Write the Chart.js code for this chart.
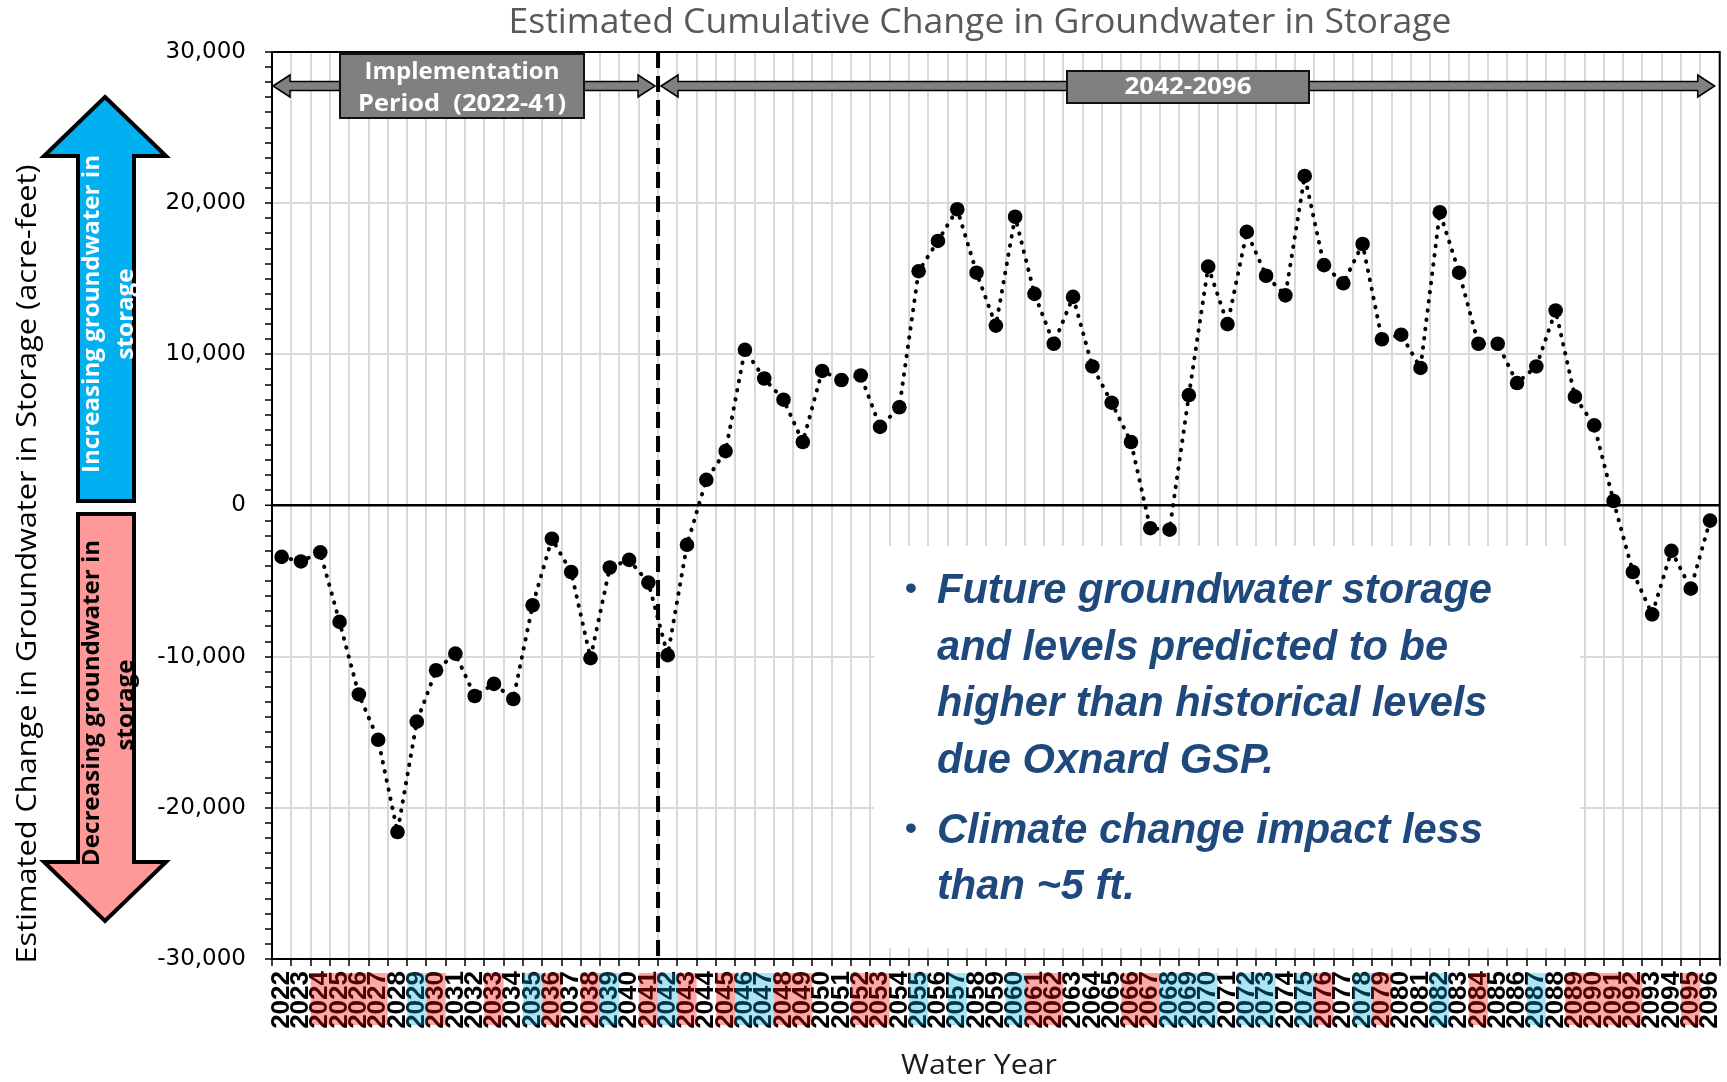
<!DOCTYPE html>
<html><head><meta charset="utf-8">
<script src="https://cdn.jsdelivr.net/npm/chart.js@4.4.1/dist/chart.umd.min.js"></script>
<style>html,body{margin:0;padding:0;background:#fff;}canvas{display:block;}</style>
</head><body>
<canvas id="c" width="1727" height="1082" style="width:1727px;height:1082px"></canvas>
<script>
const years = ['2022','2023','2024','2025','2026','2027','2028','2029','2030','2031',
  '2032','2033','2034','2035','2036','2037','2038','2039','2040','2041',
  '2042','2043','2044','2045','2046','2047','2048','2049','2050','2051',
  '2052','2053','2054','2055','2056','2057','2058','2059','2060','2061',
  '2062','2063','2064','2065','2066','2067','2068','2069','2070','2071',
  '2072','2073','2074','2075','2076','2077','2078','2079','2080','2081',
  '2082','2083','2084','2085','2086','2087','2088','2089','2090','2091',
  '2092','2093','2094','2095','2096'];
const storage = [-3400,-3700,-3100,-7700,-12500,-15500,-21600,-14300,-10900,-9800,
  -12600,-11800,-12800,-6600,-2200,-4400,-10100,-4100,-3600,-5100,
  -9900,-2600,1700,3600,10300,8400,7000,4200,8900,8300,
  8600,5200,6500,15500,17500,19600,15400,11900,19100,14000,
  10700,13800,9200,6800,4200,-1500,-1600,7300,15800,12000,
  18100,15200,13900,21800,15900,14700,17300,11000,11300,9100,
  19400,15400,10700,10700,8100,9200,12900,7200,5300,300,
  -4400,-7200,-3000,-5500,-1000];
const dryYears = ['2024','2025','2026','2027','2030','2033','2036','2038','2041','2043','2045',
  '2048','2049','2052','2053','2061','2062','2066','2067','2076','2079','2084',
  '2089','2090','2091','2092','2095'];
const wetYears = ['2029','2035','2039','2042','2046','2047','2055','2057','2060','2068','2069',
  '2070','2072','2073','2075','2078','2082','2087'];
const yMin = -30000, yMax = 30000, yMinorStep = 1000, yMajorStep = 10000;
const implementationEnd = '2041';

const titleText = 'Estimated Cumulative Change in Groundwater in Storage';
const yTitleText = 'Estimated Change in Groundwater in Storage (acre-feet)';
const xTitleText = 'Water Year';
const noteLines = [
  {bullet:true, text:'Future groundwater storage'},
  {bullet:false, text:'and levels predicted to be'},
  {bullet:false, text:'higher than historical levels'},
  {bullet:false, text:'due Oxnard GSP.'},
  {bullet:true, text:'Climate change impact less', gap:true},
  {bullet:false, text:'than ~5 ft.'}
];

function drawText(ctx, text, x, y, opts) {
  ctx.save();
  ctx.font = opts.font;
  const w = ctx.measureText(text).width;
  const sx = opts.width ? opts.width / w : (opts.sx || 1);
  ctx.translate(x, y);
  if (opts.rot) ctx.rotate(opts.rot);
  ctx.scale(sx, 1);
  ctx.fillStyle = opts.color;
  ctx.textAlign = opts.align || 'center';
  ctx.textBaseline = opts.baseline || 'middle';
  ctx.fillText(text, 0, 0);
  ctx.restore();
  return sx;
}
function scaleFor(ctx, text, font, width) {
  ctx.save(); ctx.font = font; const w = ctx.measureText(text).width; ctx.restore();
  return width / w;
}
function doubleArrow(ctx, x1, x2, y) {
  const sh = 4.5, hh = 11, hl = 17;
  ctx.save();
  ctx.beginPath();
  ctx.moveTo(x1, y);
  ctx.lineTo(x1 + hl, y - hh);
  ctx.lineTo(x1 + hl, y - sh);
  ctx.lineTo(x2 - hl, y - sh);
  ctx.lineTo(x2 - hl, y - hh);
  ctx.lineTo(x2, y);
  ctx.lineTo(x2 - hl, y + hh);
  ctx.lineTo(x2 - hl, y + sh);
  ctx.lineTo(x1 + hl, y + sh);
  ctx.lineTo(x1 + hl, y + hh);
  ctx.closePath();
  ctx.fillStyle = '#808080';
  ctx.fill();
  ctx.lineWidth = 1.5;
  ctx.strokeStyle = '#000';
  ctx.stroke();
  ctx.restore();
}
function greyBox(ctx, x, y, w, h) {
  ctx.save();
  ctx.fillStyle = '#808080';
  ctx.fillRect(x, y, w, h);
  ctx.lineWidth = 2;
  ctx.strokeStyle = '#111';
  ctx.strokeRect(x, y, w, h);
  ctx.restore();
}

const decor = {
  id: 'decor',
  beforeDatasetsDraw(chart) {
    const ctx = chart.ctx, a = chart.chartArea, xs = chart.scales.x;
    ctx.save();
    ctx.fillStyle = '#fff';
    ctx.fillRect(874, 546, 706, 402);
    ctx.restore();
    const i = years.indexOf(implementationEnd);
    const xd = (xs.getPixelForValue(i) + xs.getPixelForValue(i + 1)) / 2;
    ctx.save();
    ctx.strokeStyle = '#000';
    ctx.lineWidth = 4;
    ctx.setLineDash([16, 8]);
    ctx.beginPath();
    ctx.moveTo(xd, a.top);
    ctx.lineTo(xd, a.bottom);
    ctx.stroke();
    ctx.restore();
  },
  afterDatasetsDraw(chart) {
    const ctx = chart.ctx, a = chart.chartArea, xs = chart.scales.x;
    ctx.save();
    ctx.strokeStyle = '#000';
    ctx.lineWidth = 2;
    ctx.strokeRect(a.left, a.top, a.right - a.left, a.bottom - a.top);
    ctx.restore();
    const i = years.indexOf(implementationEnd);
    const xd = (xs.getPixelForValue(i) + xs.getPixelForValue(i + 1)) / 2;
    const ya = 86;
    doubleArrow(ctx, a.left + 1, xd - 3, ya);
    doubleArrow(ctx, xd + 3, a.right - 5, ya);
    greyBox(ctx, 340, 54, 244, 64);
    greyBox(ctx, 1067, 71, 242, 32);
    const bf = 'bold 23px "Open Sans"';
    const s1 = scaleFor(ctx, 'Implementation', bf, 195);
    drawText(ctx, 'Implementation', 462, 72, {font: bf, color: '#fff', sx: s1});
    drawText(ctx, 'Period  (2022-41)', 462, 104, {font: bf, color: '#fff', width: 208});
    drawText(ctx, '2042-2096', 1188, 87, {font: bf, color: '#fff', width: 127});
    const nf = 'italic bold 42px "Liberation Sans Narrow", "Liberation Sans", sans-serif';
    const ns = scaleFor(ctx, noteLines[0].text, nf, 555);
    let yb = 603;
    noteLines.forEach((ln, k) => {
      if (k > 0) yb += ln.gap ? 70 : 56.5;
      if (ln.bullet) drawText(ctx, '\u2022', 911, yb - 4, {font: 'bold 34px "Liberation Sans"', color: '#1F497D', baseline: 'alphabetic'});
      drawText(ctx, ln.text, 937, yb, {font: nf, color: '#1F497D', sx: ns, align: 'left', baseline: 'alphabetic'});
    });
  },
  afterDraw(chart) {
    const ctx = chart.ctx, xs = chart.scales.x;
    const hw = (xs.getPixelForValue(1) - xs.getPixelForValue(0)) / 2;
    const top = xs.top + 14, h = 52;
    ctx.save();
    dryYears.forEach(y => {
      const cx = xs.getPixelForValue(years.indexOf(y));
      ctx.fillStyle = 'rgba(240,0,0,0.34)';
      ctx.fillRect(cx - hw, top, hw * 2, h);
    });
    wetYears.forEach(y => {
      const cx = xs.getPixelForValue(years.indexOf(y));
      ctx.fillStyle = 'rgba(0,170,225,0.32)';
      ctx.fillRect(cx - hw, top, hw * 2, h);
    });
    ctx.restore();
    drawText(ctx, titleText, 980, 23, {font: '34px "Open Sans"', color: '#595959', width: 943});
    drawText(ctx, yTitleText, 28, 564, {font: '28px "Open Sans"', color: '#000', width: 799, rot: -Math.PI / 2});
    drawText(ctx, xTitleText, 979, 1066, {font: '28px "Open Sans"', color: '#1a1a1a', width: 156});
    ctx.save();
    ctx.lineWidth = 4;
    ctx.strokeStyle = '#000';
    ctx.lineJoin = 'miter';
    ctx.beginPath();
    ctx.moveTo(105, 97); ctx.lineTo(166, 156); ctx.lineTo(134, 156); ctx.lineTo(134, 501);
    ctx.lineTo(78, 501); ctx.lineTo(78, 156); ctx.lineTo(44, 156); ctx.closePath();
    ctx.fillStyle = '#00B0F0'; ctx.fill(); ctx.stroke();
    ctx.beginPath();
    ctx.moveTo(78, 514); ctx.lineTo(134, 514); ctx.lineTo(134, 862); ctx.lineTo(166, 862);
    ctx.lineTo(105, 921); ctx.lineTo(44, 862); ctx.lineTo(78, 862); ctx.closePath();
    ctx.fillStyle = '#FF9999'; ctx.fill(); ctx.stroke();
    ctx.restore();
    const af = 'bold 23px "Open Sans"';
    const as = scaleFor(ctx, 'Increasing groundwater in', af, 318);
    drawText(ctx, 'Increasing groundwater in', 92, 314, {font: af, color: '#fff', sx: as, rot: -Math.PI / 2});
    drawText(ctx, 'storage', 126, 314, {font: af, color: '#fff', sx: as, rot: -Math.PI / 2});
    drawText(ctx, 'Decreasing groundwater in', 92, 703, {font: af, color: '#000', sx: as, rot: -Math.PI / 2});
    drawText(ctx, 'storage', 126, 705, {font: af, color: '#000', sx: as, rot: -Math.PI / 2});
  }
};

new Chart(document.getElementById('c'), {
  type: 'line',
  data: {
    labels: years,
    datasets: [{
      data: storage,
      borderColor: '#000',
      borderWidth: 4,
      borderDash: [0.5, 8.8],
      borderCapStyle: 'round',
      pointRadius: 7.3,
      pointBackgroundColor: '#000',
      pointBorderWidth: 0,
      tension: 0,
      fill: false
    }]
  },
  options: {
    responsive: false,
    animation: false,
    devicePixelRatio: 1,
    layout: {padding: {top: 52, right: 3, left: 0, bottom: 0}},
    plugins: {legend: {display: false}, title: {display: false}, tooltip: {enabled: false}},
    scales: {
      x: {
        type: 'category',
        offset: true,
        grid: {offset: true, color: '#d9d9d9', lineWidth: 2, tickColor: '#000', tickLength: 7, tickWidth: 1.5},
        border: {color: '#000', width: 2},
        ticks: {autoSkip: false, maxRotation: 90, minRotation: 90, padding: 5, color: '#000',
          font: {family: '"Liberation Sans", Arial, sans-serif', size: 26, weight: 'bold'}},
        afterFit: s => { s.height = 123; s.paddingLeft = 0; s.paddingRight = 0; }
      },
      y: {
        min: yMin, max: yMax,
        ticks: {stepSize: yMinorStep, autoSkip: false, padding: 19, color: '#000',
          font: {family: '"DejaVu Sans", sans-serif', size: 23},
          callback: v => (v % yMajorStep === 0) ? v.toLocaleString('en-US') : ''},
        grid: {
          color: c => c.tick.value === 0 ? '#000' : (c.tick.value % yMajorStep === 0 ? '#d9d9d9' : 'rgba(0,0,0,0)'),
          lineWidth: c => c.tick.value === 0 ? 2.5 : 2,
          tickColor: '#000', tickLength: 7, tickWidth: 1.5
        },
        border: {color: '#000', width: 2},
        afterFit: s => { s.width = 272; s.paddingTop = 0; s.paddingBottom = 0; }
      }
    }
  },
  plugins: [decor]
});
</script>
</body></html>
